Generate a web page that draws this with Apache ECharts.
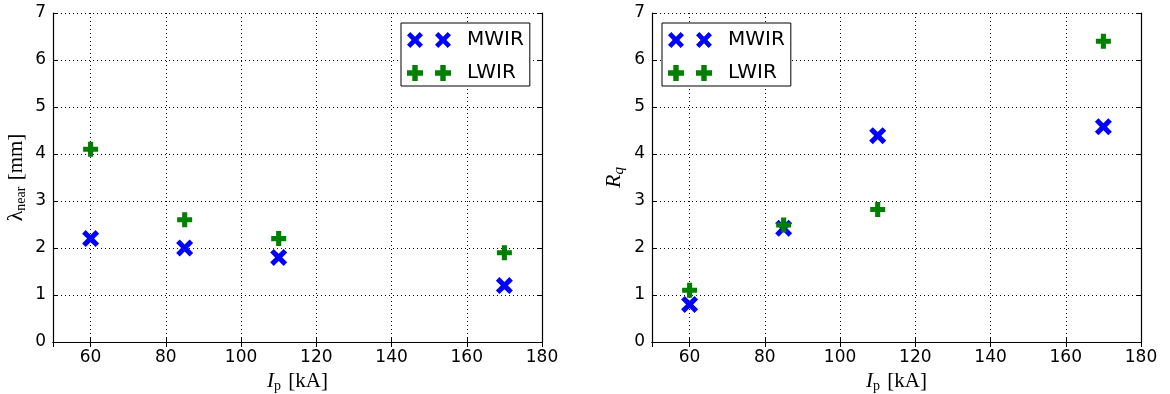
<!DOCTYPE html>
<html>
<head>
<meta charset="utf-8">
<script src="https://cdn.jsdelivr.net/npm/echarts@6/dist/echarts.min.js"></script>
<style>
  html, body { margin: 0; padding: 0; background: #fff; }
  #chart { width: 1170px; height: 394px; }
</style>
</head>
<body>
<div id="chart"></div>
<script>
  // plasma current, kA
  const currents = [60, 85, 110, 170]
  // left panel: lambda_near [mm]
  const lambdaMWIR = [2.2, 2.0, 1.8, 1.2]
  const lambdaLWIR = [4.1, 2.6, 2.2, 1.9]
  // right panel: R_q
  const rqMWIR = [0.8, 2.42, 4.39, 4.58]
  const rqLWIR = [1.1, 2.49, 2.82, 6.4]
  const yTicks = [0, 1, 2, 3, 4, 5, 6, 7]

  const crossPath = 'path://M0,2.1L2.1,0L5,2.9L7.9,0L10,2.1L7.1,5L10,7.9L7.9,10L5,7.1L2.1,10L0,7.9L2.9,5Z'
  const plusPath = 'path://M3.3,0H6.7V3.3H10V6.7H6.7V10H3.3V6.7H0V3.3H3.3Z'
  const crossPair = 'path://M0,2.1L2.1,0L5,2.9L7.9,0L10,2.1L7.1,5L10,7.9L7.9,10L5,7.1L2.1,10L0,7.9L2.9,5Z' +
    'M17.5,2.1L19.6,0L22.5,2.9L25.4,0L27.5,2.1L24.6,5L27.5,7.9L25.4,10L22.5,7.1L19.6,10L17.5,7.9L20.4,5Z'
  const plusPair = 'path://M3.3,0H6.7V3.3H10V6.7H6.7V10H3.3V6.7H0V3.3H3.3Z' +
    'M20.8,0H24.2V3.3H27.5V6.7H24.2V10H20.8V6.7H17.5V3.3H20.8Z'

  const blue = '#0000ff'
  const green = '#008000'
  const labelFont = 'DejaVu Sans'
  const serif = 'Liberation Serif'

  function pairs(xs, ys) {
    return xs.map((x, i) => [x, ys[i]])
  }

  function xAxisFor(idx, name) {
    return [{
      type: 'value', gridIndex: idx, min: 50, max: 180, splitNumber: 7,
      axisLine: { lineStyle: { color: '#000', width: 1.2 } },
      axisTick: { inside: true, length: 5, lineStyle: { color: '#000' } },
      axisLabel: { showMinLabel: false, color: '#000', fontSize: 17, fontFamily: labelFont, margin: 7 },
      splitLine: { show: true, lineStyle: { color: '#000', type: [1, 3], width: 1 } },
      name: name, nameLocation: 'middle', nameGap: 23,
      nameTextStyle: {
        color: '#000', fontFamily: serif, fontSize: 21,
        rich: {
          i: { fontFamily: serif, fontStyle: 'italic', fontSize: 21, color: '#000' },
          sub: { fontFamily: serif, fontSize: 14, color: '#000', padding: [10, 2, 0, 0] },
          n: { fontFamily: serif, fontSize: 21, color: '#000' }
        }
      }
    }, {
      type: 'value', gridIndex: idx, position: 'top', min: 50, max: 180, splitNumber: 7,
      axisLine: { lineStyle: { color: '#000', width: 1.2 } },
      axisTick: { inside: true, length: 5, lineStyle: { color: '#000' } },
      axisLabel: { show: false }, splitLine: { show: false }
    }]
  }

  function yAxisFor(idx, name, rich) {
    return [{
      type: 'value', gridIndex: idx, min: 0, max: 7, interval: 1,
      axisLine: { lineStyle: { color: '#000', width: 1.2 } },
      axisTick: { inside: true, length: 5, lineStyle: { color: '#000' } },
      axisLabel: { color: '#000', fontSize: 17, fontFamily: labelFont, margin: 7,
        formatter: v => yTicks.includes(v) ? String(v) : '' },
      splitLine: { show: true, lineStyle: { color: '#000', type: [1, 3], width: 1 } },
      name: name, nameLocation: 'middle', nameGap: 25, nameRotate: 90,
      nameTextStyle: { color: '#000', fontFamily: serif, fontSize: 21, rich: rich }
    }, {
      type: 'value', gridIndex: idx, position: 'right', min: 0, max: 7, interval: 1,
      axisLine: { lineStyle: { color: '#000', width: 1.2 } },
      axisTick: { inside: true, length: 5, lineStyle: { color: '#000' } },
      axisLabel: { show: false }, splitLine: { show: false }
    }]
  }

  function legendAt(left) {
    return {
      left: left, top: 23, orient: 'vertical',
      backgroundColor: '#fff', borderColor: '#000', borderWidth: 1, borderRadius: 0,
      padding: [7, 6, 3, 6], itemGap: 13, itemWidth: 44, itemHeight: 16,
      selectedMode: false,
      textStyle: { color: '#000', fontSize: 20, lineHeight: 20, fontFamily: labelFont, padding: [0, 0, 0, 11] },
      data: [{ name: 'MWIR', icon: crossPair }, { name: 'LWIR', icon: plusPair }]
    }
  }

  function series(idx, mwir, lwir) {
    return [{
      name: 'MWIR', type: 'scatter', xAxisIndex: idx * 2, yAxisIndex: idx * 2,
      symbol: crossPath, symbolSize: 17, itemStyle: { color: blue, opacity: 1 },
      data: pairs(currents, mwir), z: 3
    }, {
      name: 'LWIR', type: 'scatter', xAxisIndex: idx * 2, yAxisIndex: idx * 2,
      symbol: plusPath, symbolSize: 15, itemStyle: { color: green, opacity: 1 },
      data: pairs(currents, lwir), z: 4
    }]
  }

  const chart = echarts.init(document.getElementById('chart'), null, { renderer: 'canvas' })
  chart.setOption({
    animation: false,
    backgroundColor: '#fff',
    grid: [
      { left: 53, top: 13, width: 489, height: 329, outerBoundsMode: 'none', containLabel: false },
      { left: 652, top: 13, width: 489, height: 329, outerBoundsMode: 'none', containLabel: false }
    ],
    xAxis: [].concat(xAxisFor(0, '{i|I}{sub|p} {n|[kA]}'), xAxisFor(1, '{i|I}{sub|p} {n|[kA]}')),
    yAxis: [].concat(
      yAxisFor(0, '{g|λ}{sub|near} {n|[mm]}', {
        g: { fontFamily: serif, fontSize: 22, color: '#000' },
        sub: { fontFamily: serif, fontSize: 14, color: '#000', padding: [10, 1, 0, 0] },
        n: { fontFamily: serif, fontSize: 21, color: '#000' }
      }),
      yAxisFor(1, '{i|R}{sub|q}', {
        i: { fontFamily: serif, fontStyle: 'italic', fontSize: 22, color: '#000' },
        sub: { fontFamily: serif, fontStyle: 'italic', fontSize: 15, color: '#000', padding: [10, 0, 0, 0] }
      })
    ),
    legend: [legendAt(401), legendAt(662)],
    series: [].concat(series(0, lambdaMWIR, lambdaLWIR), series(1, rqMWIR, rqLWIR))
  })
</script>
</body>
</html>
